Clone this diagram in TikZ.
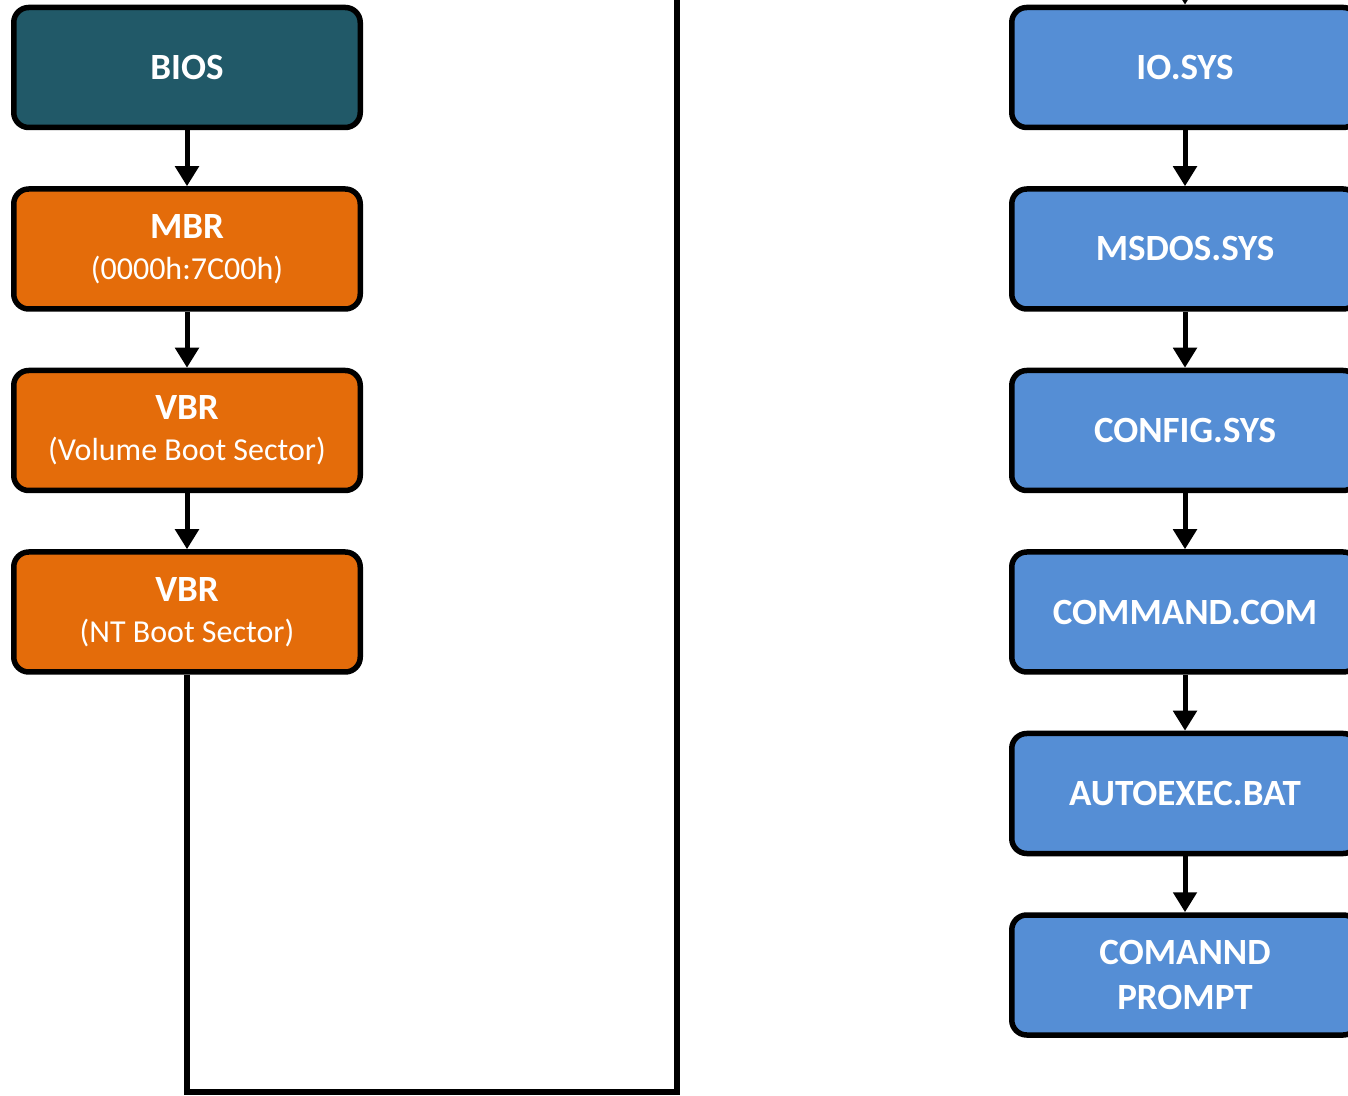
\documentclass[tikz,border=0pt]{standalone}
\usepackage{fontspec}
\setmainfont{Carlito}
\usetikzlibrary{positioning,arrows.meta}
\definecolor{biosteal}{RGB}{33,89,104}
\definecolor{bootorange}{RGB}{228,108,10}
\definecolor{dosblue}{RGB}{85,142,213}

\tikzset{
  stage/.style={draw=black, line width=5.5pt, rounded corners=15pt, minimum width=346.5pt, minimum height=120pt,
    align=center, text=white, font=\fontsize{37}{41}\selectfont\bfseries},
  biosbox/.style={stage, fill=biosteal},
  bootbox/.style={stage, fill=bootorange},
  dosbox/.style={stage, fill=dosblue},
  flow/.style={line width=5pt, -{Triangle[width=23pt,length=20pt]}},
  loop/.style={line width=5.5pt, line join=miter, -{Triangle[width=23pt,length=20pt]}}
}
\newcommand{\subline}[1]{{\mdseries\fontsize{32}{41}\selectfont #1}}

\begin{document}
\begin{tikzpicture}[x=1pt, y=1pt, node distance=56pt]
\useasboundingbox (0,0) rectangle (1348,1095);
\clip (0,0) rectangle (1348,1095);

% left column: boot sectors
\node[biosbox] (bios) at (187,1027.5) {BIOS};
\node[bootbox, below=of bios] (mbr) {MBR\\\subline{(0000h:7C00h)}};
\node[bootbox, below=of mbr] (vbr) {VBR\\\subline{(Volume Boot Sector)}};
\node[bootbox, below=of vbr] (vbrnt) {VBR\\\subline{(NT Boot Sector)}};

% right column: DOS files
\node[dosbox] (io) at (1185,1027.5) {IO.SYS};
\node[dosbox, below=of io] (msdos) {MSDOS.SYS};
\node[dosbox, below=of msdos] (config) {CONFIG.SYS};
\node[dosbox, below=of config] (command) {COMMAND.COM};
\node[dosbox, below=of command] (autoexec) {AUTOEXEC.BAT};
\node[dosbox, below=of autoexec] (prompt) {COMANND\\[4pt]PROMPT};

\draw[flow] (bios) -- (mbr);
\draw[flow] (mbr) -- (vbr);
\draw[flow] (vbr) -- (vbrnt);
\draw[flow] (io) -- (msdos);
\draw[flow] (msdos) -- (config);
\draw[flow] (config) -- (command);
\draw[flow] (command) -- (autoexec);
\draw[flow] (autoexec) -- (prompt);

% hand-over from the NT sector to IO.SYS
\coordinate (loopbot) at (677,2.8);
\coordinate (looptop) at (677,1160);
\draw[loop] (vbrnt.south) |- (loopbot) -- (looptop) -| (io.north);
\end{tikzpicture}
\end{document}
